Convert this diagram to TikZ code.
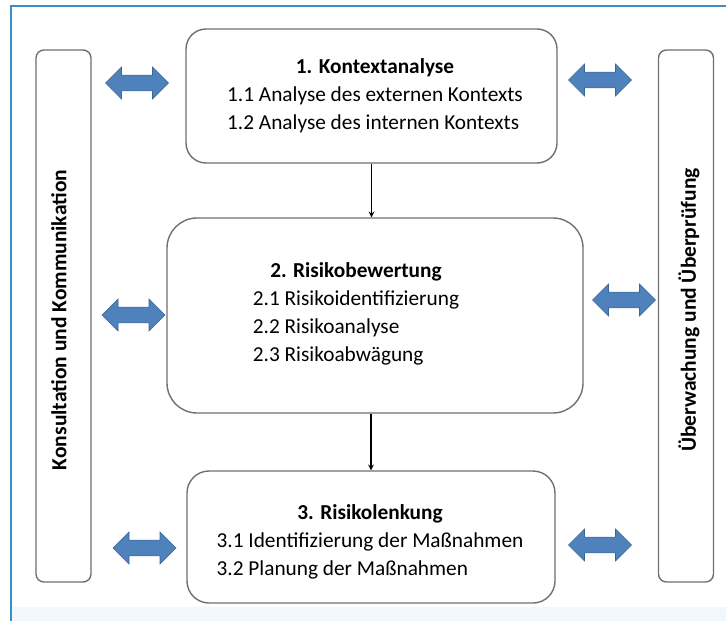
\documentclass[tikz,border=0pt]{standalone}
\usepackage{fontspec}
\setmainfont{Carlito}
\usepackage{tikz}
\usetikzlibrary{positioning,shapes.arrows}

\definecolor{frameblue}{HTML}{3A8DC6}
\definecolor{boxgray}{HTML}{707070}
\definecolor{arrowblue}{HTML}{4F81BD}
\definecolor{arrowedge}{HTML}{3B6592}
\definecolor{bottomtint}{HTML}{F1F8FC}

\begin{document}
\begin{tikzpicture}[%
    x=1pt, y=-1pt,
    stage/.style={%
        draw=boxgray,
        line width=1.4pt,
        fill=white,
        inner sep=0pt
    },
    sidebar/.style={%
        draw=boxgray,
        line width=1.4pt,
        fill=white,
        rounded corners=8pt,
        inner sep=0pt,
        minimum width=55pt,
        minimum height=532pt
    },
    stageText/.style={%
        font=\fontsize{21.3}{28}\selectfont,
        inner sep=0pt
    },
    sideText/.style={%
        font=\fontsize{21.5}{24}\selectfont\bfseries,
        rotate=90,
        inner sep=0pt
    },
    exchange/.style={%
        double arrow,
        double arrow head extend=8pt,
        fill=arrowblue,
        draw=arrowedge,
        line width=0.6pt,
        inner sep=7.5pt,
        minimum height=63pt,
        minimum width=32pt
    },
    >=stealth
]

    \useasboundingbox (0,0) rectangle (726,621);

% Frame
    \fill[bottomtint] (12,607) rectangle (740,640);
    \draw[frameblue, line width=2pt] (11,6) rectangle (740,640);

% Side bars
    \node[sidebar] (consult) at (63.5,316) {};
    \node[sidebar] (monitor) at (686,316) {};
    \node[sideText] (consultText) at (59,320) {Konsultation und Kommunikation};
    \node[sideText] (monitorText) at (689,310) {Überwachung und Überprüfung};

% Stage 1
    \node[stage, rounded corners=20pt, minimum width=371pt, minimum height=134pt] (context) at (371.5,96) {};
    \node[stageText] (contextText) at (375,96) {\begin{tabular}{@{}l@{}}
        \multicolumn{1}{@{}c@{}}{\textbf{1. Kontextanalyse}}\\
        1.1 Analyse des externen Kontexts\\
        1.2 Analyse des internen Kontexts
    \end{tabular}};

% Stage 2
    \node[stage, rounded corners=30pt, minimum width=416pt, minimum height=195pt] (assessment) at (375,315.5) {};
    \node[stageText] (assessmentText) at (356,314) {\begin{tabular}{@{}l@{}}
        \multicolumn{1}{@{}c@{}}{\textbf{2. Risikobewertung}}\\
        2.1 Risikoidentifizierung\\
        2.2 Risikoanalyse\\
        2.3 Risikoabwägung
    \end{tabular}};

% Stage 3
    \node[stage, rounded corners=22pt, minimum width=368pt, minimum height=132pt] (treatment) at (371,537) {};
    \node[stageText] (treatmentText) at (370,541.5) {\begin{tabular}{@{}l@{}}
        \multicolumn{1}{@{}c@{}}{\textbf{3. Risikolenkung}}\\
        3.1 Identifizierung der Maßnahmen\\
        3.2 Planung der Maßnahmen
    \end{tabular}};

% Exchange arrows
    \node[exchange] (exchangeL1) at (137,83) {};
    \node[exchange] (exchangeL2) at (133.5,315) {};
    \node[exchange] (exchangeL3) at (144.5,548) {};
    \node[exchange] (exchangeR1) at (600,80) {};
    \node[exchange] (exchangeR2) at (624,300) {};
    \node[exchange] (exchangeR3) at (600,545) {};

% Arrows
\draw[->, line width=1.5pt] (context.south) -- (context.south |- assessment.north);
\draw[->, line width=1.5pt] (treatment.north |- assessment.south) -- (treatment.north);

\end{tikzpicture}
\end{document}
